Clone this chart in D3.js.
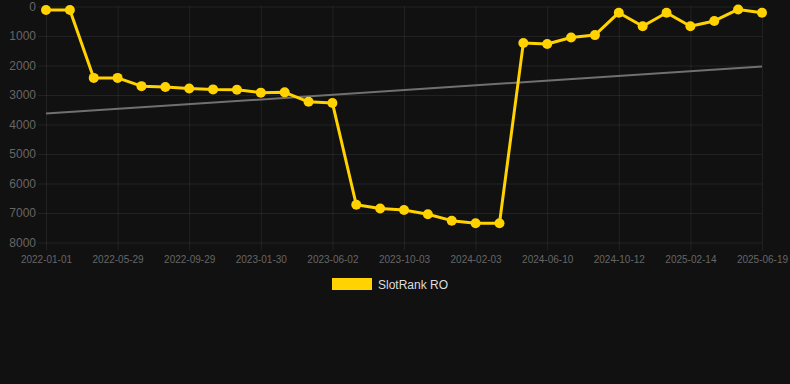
<!DOCTYPE html>
<html>
<head>
<meta charset="utf-8">
<script src="https://cdn.jsdelivr.net/npm/d3@7"></script>
<style>
  html, body { margin: 0; padding: 0; background: #111111; }
  svg { display: block; font-family: "Liberation Sans", Arial, Helvetica, sans-serif; }
</style>
</head>
<body>
<svg id="chart" width="790" height="384"></svg>
<script>
// dates per point (only every 3rd is shown on the axis)
let dates = [
    "2022-01-01", "2022-02-19", "2022-04-10", "2022-05-29", "2022-07-09", "2022-08-19",
    "2022-09-29", "2022-11-09", "2022-12-20", "2023-01-30", "2023-03-12", "2023-04-22",
    "2023-06-02", "2023-07-13", "2023-08-23", "2023-10-03", "2023-11-13", "2023-12-24",
    "2024-02-03", "2024-03-16", "2024-04-28", "2024-06-10", "2024-07-22", "2024-09-01",
    "2024-10-12", "2024-11-23", "2025-01-03", "2025-02-14", "2025-03-28", "2025-05-08",
    "2025-06-19"
];
let ranks = [
    120, 120, 2420, 2420, 2700, 2730, 2780, 2810, 2820, 2920, 2910, 3230, 3270,
    6720, 6850, 6900, 7040, 7260, 7350, 7350,
    1240, 1270, 1050, 970, 210, 670, 210, 670, 490, 100, 210
];
let y_ticks = [0, 1000, 2000, 3000, 4000, 5000, 6000, 7000, 8000];
let series_name = "SlotRank RO";

let gold = "#ffd200";
let grid_col = "rgba(255,255,255,0.07)";
let tick_col = "#666666";

function plot_rank() {
    let svg = d3.select("#chart");
    let left = 46, right = 762, top = 6.5, bottom = 242.5;

    let x = d3.scalePoint()
        .domain(dates)
        .range([left, right]);
    let y = d3.scaleLinear()
        .domain([0, 8000])
        .range([top, bottom]);

    let shown = dates.filter((d, i) => i % 3 === 0);

    // horizontal grid + y labels
    let yAxis = svg.append("g")
        .attr("transform", `translate(${right}, 0)`)
        .call(d3.axisLeft(y).tickValues(y_ticks).tickSize(right - 38).tickPadding(2).tickFormat(d3.format("d")));
    yAxis.select(".domain").remove();
    yAxis.selectAll("line").attr("stroke", grid_col);
    yAxis.selectAll("text")
        .attr("fill", tick_col)
        .attr("font-size", "12px");

    // vertical grid + x labels
    let xAxis = svg.append("g")
        .attr("transform", `translate(0, ${top})`)
        .call(d3.axisBottom(x).tickValues(shown).tickSize(bottom - top + 8).tickPadding(5));
    xAxis.select(".domain").remove();
    xAxis.selectAll("line").attr("stroke", grid_col);
    xAxis.selectAll("text")
        .attr("fill", tick_col)
        .attr("font-size", "10px");

    // trend line, least squares over point index
    let n = ranks.length;
    let mx = d3.mean(ranks, (d, i) => i);
    let my = d3.mean(ranks);
    let sxy = d3.sum(ranks, (d, i) => (i - mx) * (d - my));
    let sxx = d3.sum(ranks, (d, i) => (i - mx) * (i - mx));
    let slope = sxy / sxx;
    let trend = [0, n - 1].map(i => ({ date: dates[i], v: my + slope * (i - mx) }));

    svg.append("path")
        .datum(trend)
        .attr("fill", "none")
        .attr("stroke", "#707070")
        .attr("stroke-width", 2)
        .attr("d", d3.line().x(d => x(d.date)).y(d => y(d.v)));

    let pts = dates.map((d, i) => ({ date: d, v: ranks[i] }));

    svg.append("path")
        .datum(pts)
        .attr("fill", "none")
        .attr("stroke", gold)
        .attr("stroke-width", 3)
        .attr("stroke-linejoin", "round")
        .attr("d", d3.line().x(d => x(d.date)).y(d => y(d.v)));

    svg.selectAll(".dot")
        .data(pts)
        .enter().append("circle")
            .attr("class", "dot")
            .attr("cx", d => x(d.date))
            .attr("cy", d => y(d.v))
            .attr("r", 5)
            .attr("fill", gold);

    // legend
    let lg = svg.append("g");
    lg.append("rect")
        .attr("x", 332).attr("y", 278)
        .attr("width", 40).attr("height", 12)
        .attr("fill", gold);
    lg.append("text")
        .attr("x", 378).attr("y", 288.5)
        .attr("fill", "#dddddd")
        .attr("font-size", "12px")
        .text(series_name);
}

document.addEventListener('DOMContentLoaded', () => {
    plot_rank();
});
</script>
</body>
</html>
